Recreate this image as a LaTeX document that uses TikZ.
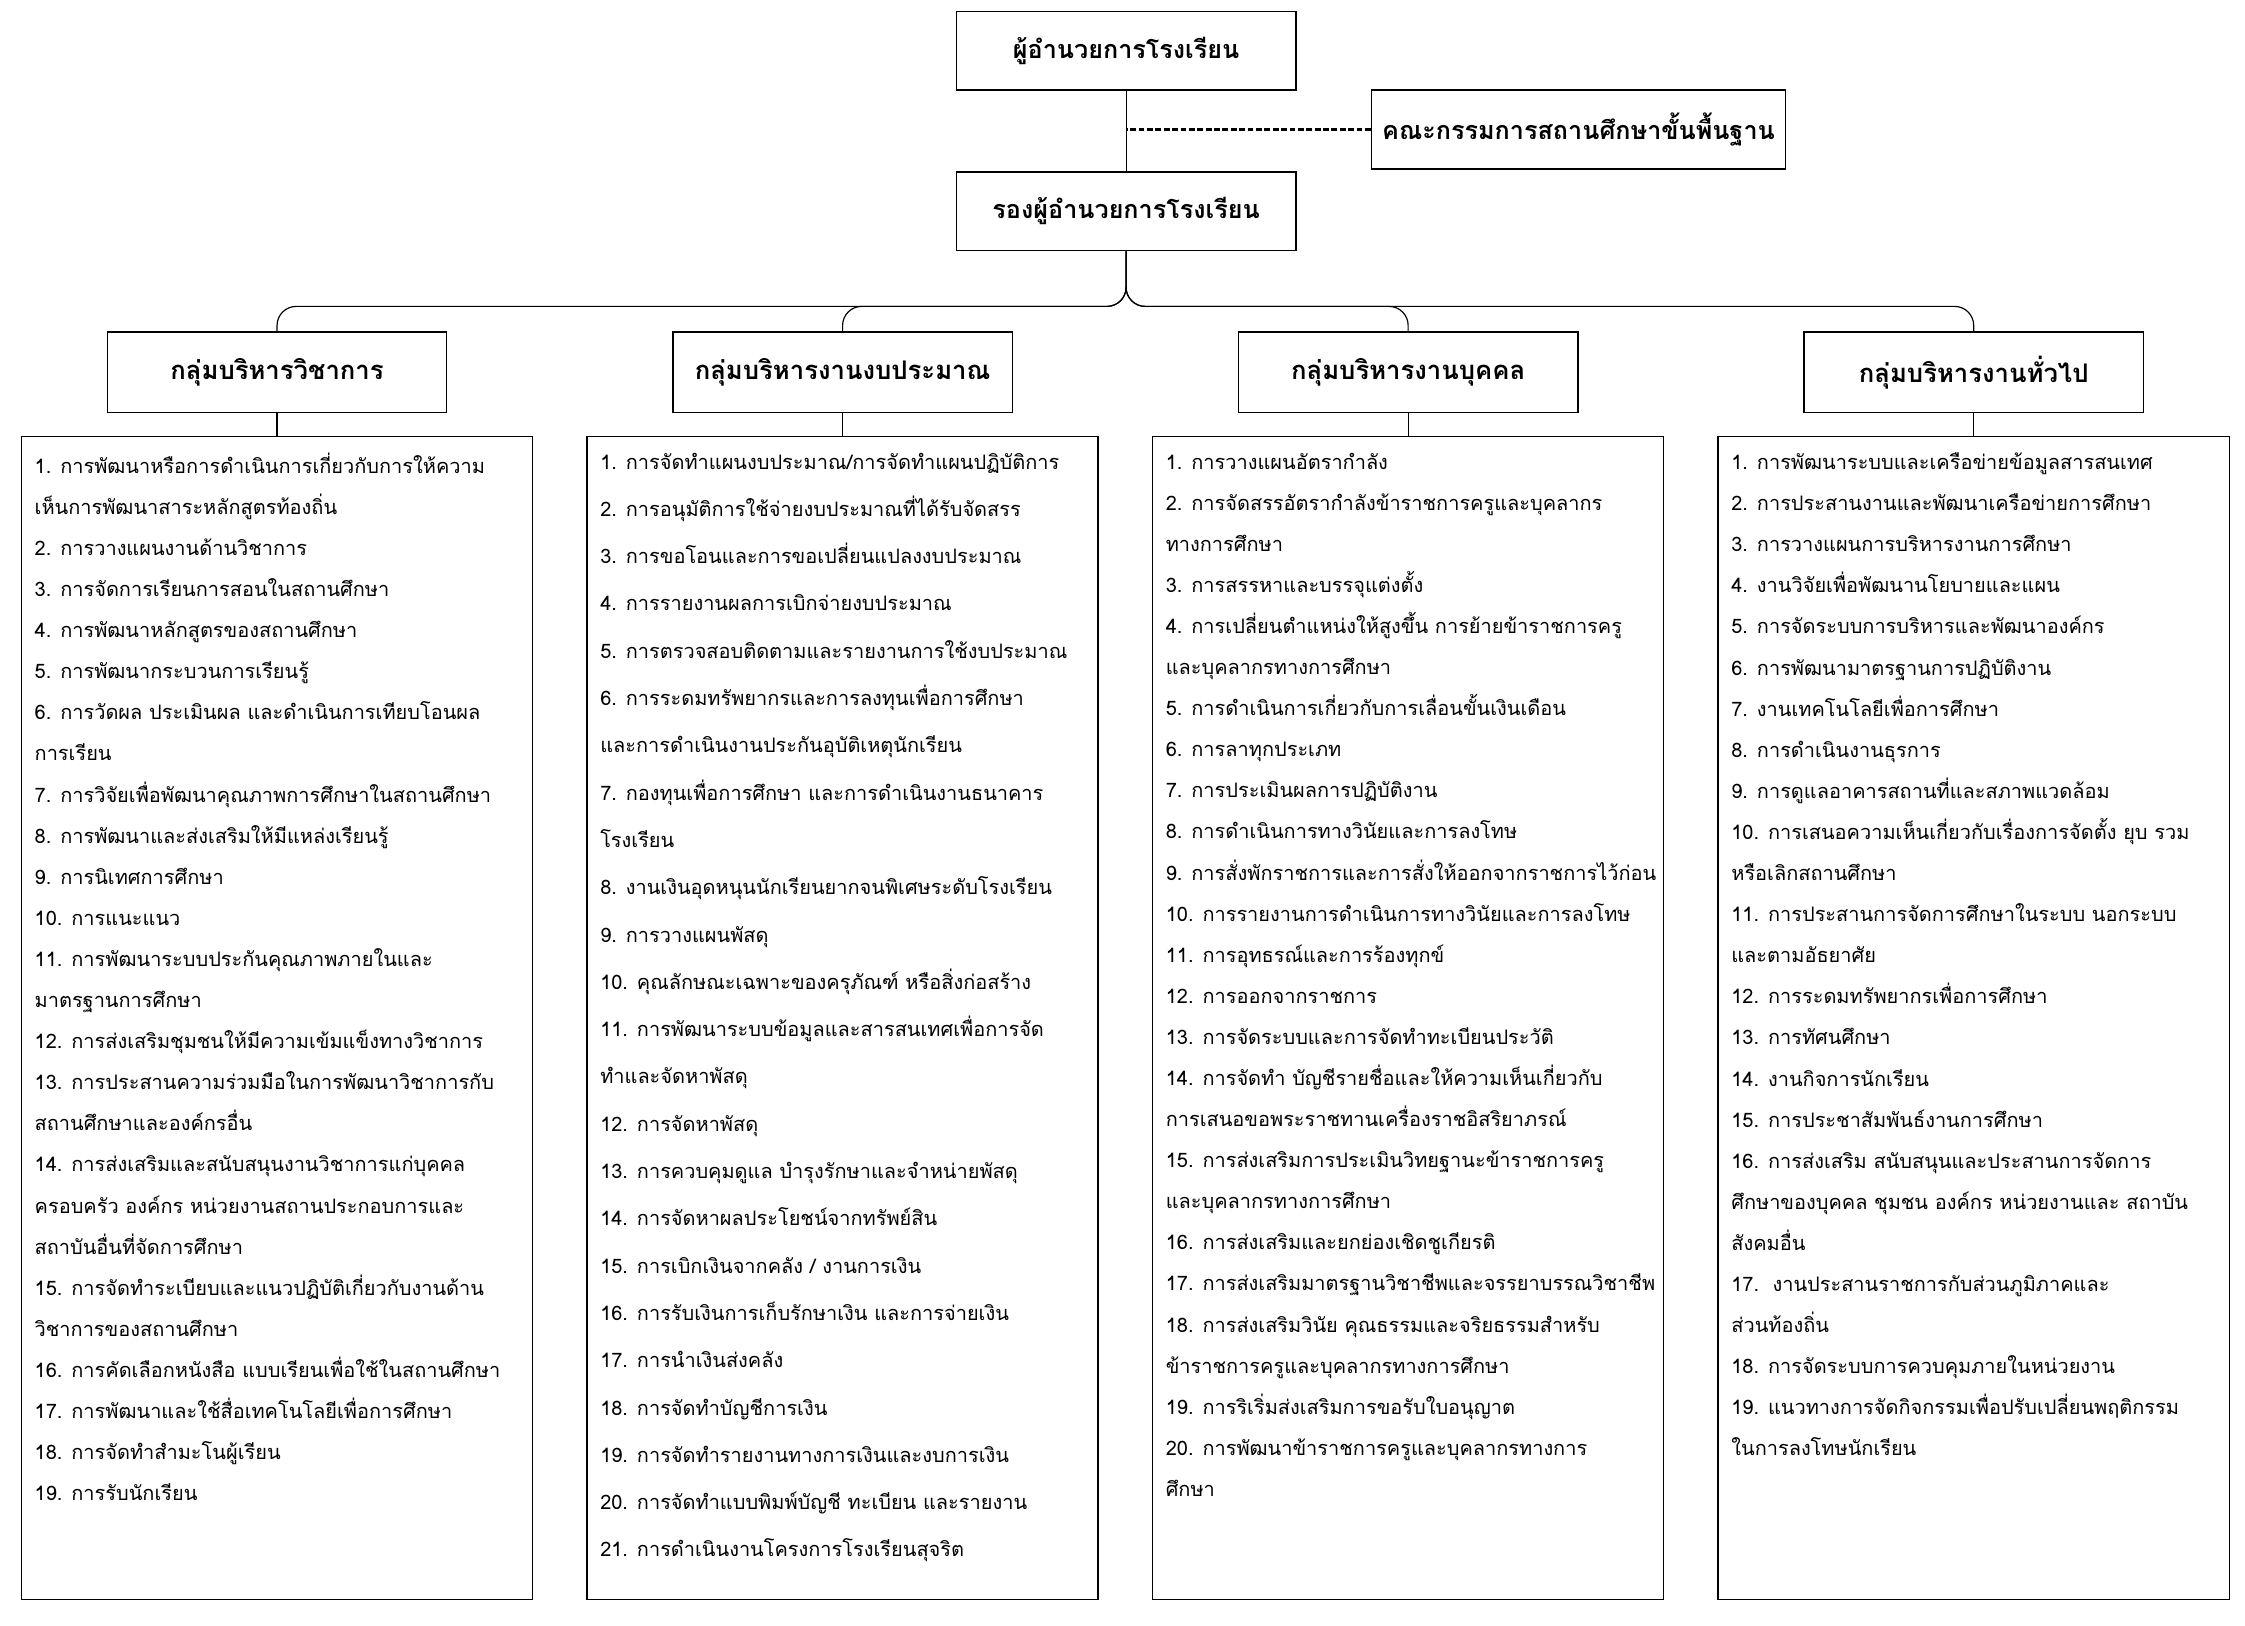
\documentclass[tikz,border=0pt]{standalone}
\usepackage{fontspec}
\newfontfamily\thaifont[Script=Thai]{Loma}
\usepackage{tikz}

\begin{document}
\begin{tikzpicture}[
      x=0.3mm, y=-0.3mm,
      every node/.style={font=\thaifont},
      chefia/.style={draw, line width=0.9pt, minimum width=7.11cm, minimum height=1.65cm,
                     inner sep=0pt, font=\thaifont\bfseries\fontsize{15}{18}\selectfont},
      grupo/.style={draw, line width=0.9pt, minimum width=7.11cm, minimum height=1.68cm,
                    inner sep=0pt, font=\thaifont\bfseries\fontsize{15.3}{18}\selectfont},
      caixa/.style={draw, line width=0.9pt, minimum width=10.71cm, minimum height=24.36cm, inner sep=0pt},
      lista/.style={anchor=north west, align=left, inner sep=0pt, font=\thaifont\fontsize{11.9}{24.5}\selectfont},
      linha/.style={line width=0.7pt},
      tracejado/.style={line width=1.5pt, dash pattern=on 3.5pt off 1.5pt}
  ]
      \useasboundingbox (0,0) rectangle (1568,1135);

      % --- CHEFIA ---
      \node[chefia] (dir)    at (786.5,35.5)  {ผู้อำนวยการโรงเรียน};
      \node[chefia, minimum width=8.67cm] (comite) at (1102.5,90.5) {คณะกรรมการสถานศึกษาขั้นพื้นฐาน};
      \node[chefia] (vice)   at (786.5,147.5) {รองผู้อำนวยการโรงเรียน};
      \draw[linha] (dir.south) -- (vice.north);
      \draw[tracejado] (comite.west) -- (comite.west -| vice.north);

      % --- GRUPO 1 ---
      \begin{scope}[xshift=0cm]
          \node[grupo] (g1) at (193.5,260) {กลุ่มบริหารวิชาการ};
          \node[caixa] (l1) at (193.5,711) {};
          \draw[linha] (g1.south) -- (l1.north);
          \node[lista] (t1) at (24,316) {1. การพัฒนาหรือการดำเนินการเกี่ยวกับการให้ความ\\เห็นการพัฒนาสาระหลักสูตรท้องถิ่น\\2. การวางแผนงานด้านวิชาการ\\3. การจัดการเรียนการสอนในสถานศึกษา\\4. การพัฒนาหลักสูตรของสถานศึกษา\\5. การพัฒนากระบวนการเรียนรู้\\6. การวัดผล ประเมินผล และดำเนินการเทียบโอนผล\\การเรียน\\7. การวิจัยเพื่อพัฒนาคุณภาพการศึกษาในสถานศึกษา\\8. การพัฒนาและส่งเสริมให้มีแหล่งเรียนรู้\\9. การนิเทศการศึกษา\\10. การแนะแนว\\11. การพัฒนาระบบประกันคุณภาพภายในและ\\มาตรฐานการศึกษา\\12. การส่งเสริมชุมชนให้มีความเข้มแข็งทางวิชาการ\\13. การประสานความร่วมมือในการพัฒนาวิชาการกับ\\สถานศึกษาและองค์กรอื่น\\14. การส่งเสริมและสนับสนุนงานวิชาการแก่บุคคล\\ครอบครัว องค์กร หน่วยงานสถานประกอบการและ\\สถาบันอื่นที่จัดการศึกษา\\15. การจัดทำระเบียบและแนวปฏิบัติเกี่ยวกับงานด้าน\\วิชาการของสถานศึกษา\\16. การคัดเลือกหนังสือ แบบเรียนเพื่อใช้ในสถานศึกษา\\17. การพัฒนาและใช้สื่อเทคโนโลยีเพื่อการศึกษา\\18. การจัดทำสำมะโนผู้เรียน\\19. การรับนักเรียน};
      \end{scope}

      % --- GRUPO 2 ---
      \begin{scope}[xshift=11.85cm]
          \node[grupo] (g2) at (193.5,260) {กลุ่มบริหารงานงบประมาณ};
          \node[caixa] (l2) at (193.5,711) {};
          \draw[linha] (g2.south) -- (l2.north);
          \node[lista, font=\thaifont\fontsize{11.9}{28.2}\selectfont] (t2) at (24,316) {1. การจัดทำแผนงบประมาณ/การจัดทำแผนปฏิบัติการ\\2. การอนุมัติการใช้จ่ายงบประมาณที่ได้รับจัดสรร\\3. การขอโอนและการขอเปลี่ยนแปลงงบประมาณ\\4. การรายงานผลการเบิกจ่ายงบประมาณ\\5. การตรวจสอบติดตามและรายงานการใช้งบประมาณ\\6. การระดมทรัพยากรและการลงทุนเพื่อการศึกษา\\และการดำเนินงานประกันอุบัติเหตุนักเรียน\\7. กองทุนเพื่อการศึกษา และการดำเนินงานธนาคาร\\โรงเรียน\\8. งานเงินอุดหนุนนักเรียนยากจนพิเศษระดับโรงเรียน\\9. การวางแผนพัสดุ\\10. คุณลักษณะเฉพาะของครุภัณฑ์ หรือสิ่งก่อสร้าง\\11. การพัฒนาระบบข้อมูลและสารสนเทศเพื่อการจัด\\ทำและจัดหาพัสดุ\\12. การจัดหาพัสดุ\\13. การควบคุมดูแล บำรุงรักษาและจำหน่ายพัสดุ\\14. การจัดหาผลประโยชน์จากทรัพย์สิน\\15. การเบิกเงินจากคลัง / งานการเงิน\\16. การรับเงินการเก็บรักษาเงิน และการจ่ายเงิน\\17. การนำเงินส่งคลัง\\18. การจัดทำบัญชีการเงิน\\19. การจัดทำรายงานทางการเงินและงบการเงิน\\20. การจัดทำแบบพิมพ์บัญชี ทะเบียน และรายงาน\\21. การดำเนินงานโครงการโรงเรียนสุจริต};
      \end{scope}

      % --- GRUPO 3 ---
      \begin{scope}[xshift=23.7cm]
          \node[grupo] (g3) at (193.5,260) {กลุ่มบริหารงานบุคคล};
          \node[caixa] (l3) at (193.5,711) {};
          \draw[linha] (g3.south) -- (l3.north);
          \node[lista] (t3) at (24,316) {1. การวางแผนอัตรากำลัง\\2. การจัดสรรอัตรากำลังข้าราชการครูและบุคลากร\\ทางการศึกษา\\3. การสรรหาและบรรจุแต่งตั้ง\\4. การเปลี่ยนตำแหน่งให้สูงขึ้น การย้ายข้าราชการครู\\และบุคลากรทางการศึกษา\\5. การดำเนินการเกี่ยวกับการเลื่อนขั้นเงินเดือน\\6. การลาทุกประเภท\\7. การประเมินผลการปฏิบัติงาน\\8. การดำเนินการทางวินัยและการลงโทษ\\9. การสั่งพักราชการและการสั่งให้ออกจากราชการไว้ก่อน\\10. การรายงานการดำเนินการทางวินัยและการลงโทษ\\11. การอุทธรณ์และการร้องทุกข์\\12. การออกจากราชการ\\13. การจัดระบบและการจัดทำทะเบียนประวัติ\\14. การจัดทำ บัญชีรายชื่อและให้ความเห็นเกี่ยวกับ\\การเสนอขอพระราชทานเครื่องราชอิสริยาภรณ์\\15. การส่งเสริมการประเมินวิทยฐานะข้าราชการครู\\และบุคลากรทางการศึกษา\\16. การส่งเสริมและยกย่องเชิดชูเกียรติ\\17. การส่งเสริมมาตรฐานวิชาชีพและจรรยาบรรณวิชาชีพ\\18. การส่งเสริมวินัย คุณธรรมและจริยธรรมสำหรับ\\ข้าราชการครูและบุคลากรทางการศึกษา\\19. การริเริ่มส่งเสริมการขอรับใบอนุญาต\\20. การพัฒนาข้าราชการครูและบุคลากรทางการ\\ศึกษา};
      \end{scope}

      % --- GRUPO 4 ---
      \begin{scope}[xshift=35.55cm]
          \node[grupo] (g4) at (193.5,260) {กลุ่มบริหารงานทั่วไป};
          \node[caixa] (l4) at (193.5,711) {};
          \draw[linha] (g4.south) -- (l4.north);
          \node[lista] (t4) at (24,316) {1. การพัฒนาระบบและเครือข่ายข้อมูลสารสนเทศ\\2. การประสานงานและพัฒนาเครือข่ายการศึกษา\\3. การวางแผนการบริหารงานการศึกษา\\4. งานวิจัยเพื่อพัฒนานโยบายและแผน\\5. การจัดระบบการบริหารและพัฒนาองค์กร\\6. การพัฒนามาตรฐานการปฏิบัติงาน\\7. งานเทคโนโลยีเพื่อการศึกษา\\8. การดำเนินงานธุรการ\\9. การดูแลอาคารสถานที่และสภาพแวดล้อม\\10. การเสนอความเห็นเกี่ยวกับเรื่องการจัดตั้ง ยุบ รวม\\หรือเลิกสถานศึกษา\\11. การประสานการจัดการศึกษาในระบบ นอกระบบ\\และตามอัธยาศัย\\12. การระดมทรัพยากรเพื่อการศึกษา\\13. การทัศนศึกษา\\14. งานกิจการนักเรียน\\15. การประชาสัมพันธ์งานการศึกษา\\16. การส่งเสริม สนับสนุนและประสานการจัดการ\\ศึกษาของบุคคล ชุมชน องค์กร หน่วยงานและ สถาบัน\\สังคมอื่น\\17.\ \ งานประสานราชการกับส่วนภูมิภาคและ\\ส่วนท้องถิ่น\\18. การจัดระบบการควบคุมภายในหน่วยงาน\\19. แนวทางการจัดกิจกรรมเพื่อปรับเปลี่ยนพฤติกรรม\\ในการลงโทษนักเรียน};
      \end{scope}

      % --- LIGACOES ---
      \coordinate (bus) at (786.5,214);
      \draw[linha, rounded corners=0.4cm] (vice.south) -- (bus) -| (g1.north);
      \draw[linha, rounded corners=0.4cm] (vice.south) -- (bus) -| (g2.north);
      \draw[linha, rounded corners=0.4cm] (vice.south) -- (bus) -| (g3.north);
      \draw[linha, rounded corners=0.4cm] (vice.south) -- (bus) -| (g4.north);

  \end{tikzpicture}
\end{document}
